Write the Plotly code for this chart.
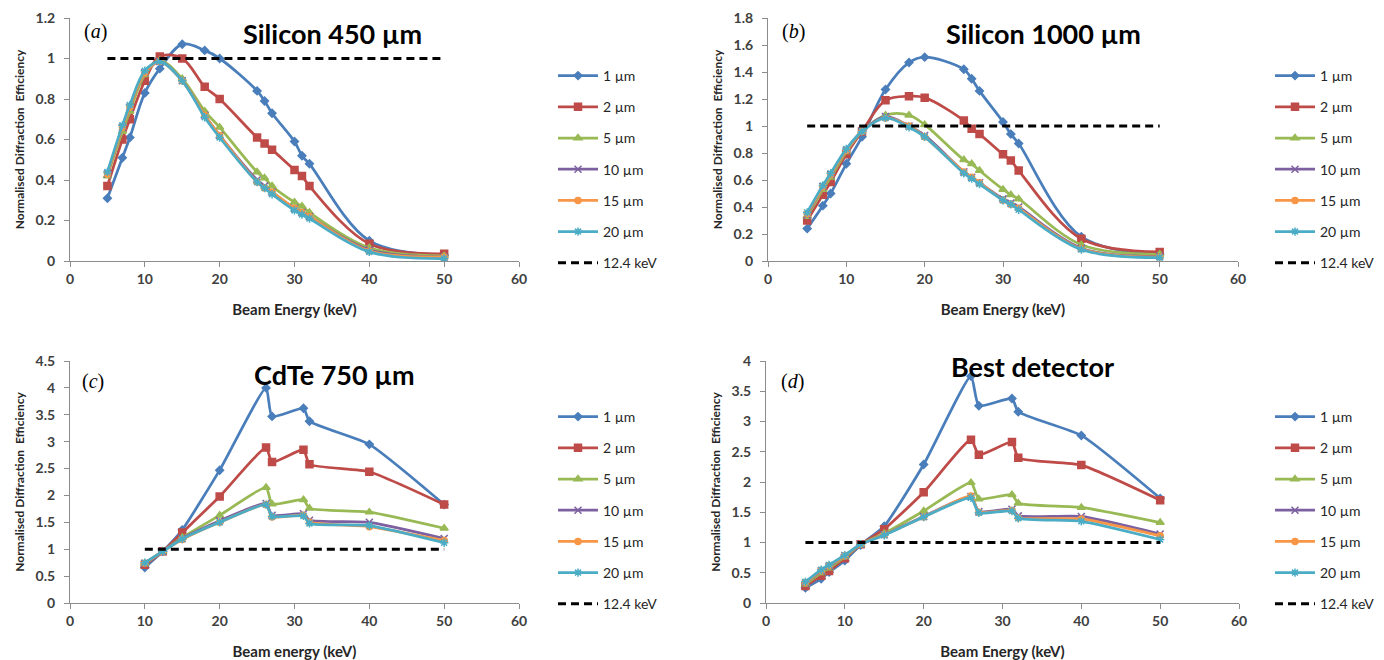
import plotly.graph_objects as go

# ---------------- data ----------------
series_names = ["1 µm", "2 µm", "5 µm", "10 µm", "15 µm", "20 µm"]
ref_name = "12.4 keV"

# (a) Silicon 450 µm
a_x = [5, 7, 8, 10, 12, 15, 18, 20, 25, 26, 27, 30, 31, 32, 40, 50]
a_1 = [0.31, 0.51, 0.61, 0.83, 0.95, 1.07, 1.04, 1.00, 0.84, 0.79, 0.73, 0.59, 0.52, 0.48, 0.10, 0.03]
a_2 = [0.37, 0.60, 0.70, 0.89, 1.01, 1.00, 0.86, 0.80, 0.61, 0.58, 0.55, 0.45, 0.42, 0.37, 0.085, 0.036]
a_5 = [0.42, 0.64, 0.74, 0.92, 0.99, 0.90, 0.74, 0.66, 0.44, 0.41, 0.37, 0.29, 0.27, 0.24, 0.065, 0.025]
a_10 = [0.43, 0.66, 0.76, 0.93, 0.985, 0.89, 0.72, 0.62, 0.40, 0.37, 0.34, 0.26, 0.24, 0.22, 0.055, 0.02]
a_15 = [0.43, 0.66, 0.76, 0.93, 0.985, 0.89, 0.72, 0.62, 0.39, 0.36, 0.34, 0.26, 0.24, 0.22, 0.05, 0.02]
a_20 = [0.44, 0.67, 0.77, 0.94, 0.985, 0.89, 0.71, 0.61, 0.39, 0.36, 0.33, 0.25, 0.23, 0.21, 0.045, 0.012]
a_ref_x = [5, 50]
a_ref_y = [1, 1]

# (b) Silicon 1000 µm
b_x = [5, 7, 8, 10, 12, 15, 18, 20, 25, 26, 27, 30, 31, 32, 40, 50]
b_1 = [0.24, 0.41, 0.50, 0.72, 0.92, 1.27, 1.47, 1.51, 1.42, 1.35, 1.26, 1.03, 0.94, 0.87, 0.18, 0.05]
b_2 = [0.30, 0.49, 0.585, 0.79, 0.96, 1.19, 1.22, 1.21, 1.04, 0.98, 0.94, 0.79, 0.745, 0.67, 0.165, 0.067]
b_5 = [0.33, 0.53, 0.62, 0.81, 0.96, 1.08, 1.08, 1.01, 0.75, 0.72, 0.67, 0.53, 0.49, 0.46, 0.12, 0.05]
b_10 = [0.34, 0.55, 0.64, 0.82, 0.96, 1.07, 1.00, 0.93, 0.66, 0.62, 0.58, 0.46, 0.43, 0.40, 0.095, 0.035]
b_15 = [0.35, 0.55, 0.64, 0.82, 0.96, 1.06, 1.00, 0.92, 0.66, 0.62, 0.58, 0.45, 0.42, 0.39, 0.09, 0.03]
b_20 = [0.36, 0.56, 0.65, 0.83, 0.96, 1.06, 0.99, 0.92, 0.65, 0.61, 0.57, 0.45, 0.42, 0.38, 0.085, 0.025]
b_ref_x = [5, 50]
b_ref_y = [1, 1]

# (c) CdTe 750 µm
c_x = [10, 12.4, 15, 20, 26.2, 27, 31.2, 32, 40, 50]
c_1 = [0.66, 0.96, 1.36, 2.47, 4.00, 3.47, 3.62, 3.38, 2.95, 1.83]
c_2 = [0.71, 0.96, 1.31, 1.98, 2.89, 2.62, 2.85, 2.58, 2.44, 1.83]
c_5 = [0.73, 0.96, 1.22, 1.63, 2.15, 1.84, 1.92, 1.76, 1.69, 1.39]
c_10 = [0.74, 0.96, 1.20, 1.53, 1.85, 1.63, 1.66, 1.54, 1.50, 1.20]
c_15 = [0.74, 0.96, 1.18, 1.50, 1.83, 1.60, 1.63, 1.50, 1.42, 1.16]
c_20 = [0.75, 0.96, 1.19, 1.50, 1.83, 1.61, 1.62, 1.48, 1.44, 1.12]
c_ref_x = [10, 50]
c_ref_y = [1, 1]

# (d) Best detector
d_x = [5, 7, 8, 10, 12, 15, 20, 26, 27, 31.2, 32, 40, 50]
d_1 = [0.25, 0.40, 0.51, 0.70, 0.96, 1.27, 2.29, 3.75, 3.26, 3.38, 3.16, 2.77, 1.73]
d_2 = [0.28, 0.45, 0.53, 0.74, 0.97, 1.22, 1.83, 2.70, 2.45, 2.66, 2.40, 2.28, 1.70]
d_5 = [0.31, 0.50, 0.58, 0.76, 0.97, 1.15, 1.52, 1.99, 1.72, 1.79, 1.65, 1.58, 1.33]
d_10 = [0.33, 0.53, 0.61, 0.78, 0.97, 1.13, 1.43, 1.76, 1.51, 1.55, 1.44, 1.43, 1.14]
d_15 = [0.34, 0.54, 0.62, 0.78, 0.97, 1.13, 1.42, 1.77, 1.50, 1.53, 1.41, 1.39, 1.11]
d_20 = [0.35, 0.55, 0.63, 0.79, 0.97, 1.12, 1.42, 1.74, 1.49, 1.52, 1.40, 1.35, 1.05]
d_ref_x = [5, 50]
d_ref_y = [1, 1]

x_ticks = [0, 10, 20, 30, 40, 50, 60]

# ---------------- styling ----------------
W, H = 1384, 660
colors = ["#4A7EBB", "#BE4B48", "#98B954", "#7D60A0", "#F79646", "#4BACC6"]
symbols = ["diamond", "square", "triangle-up", "x-thin-open", "circle", "asterisk-open"]
msizes = [6, 7, 7, 7, 6, 7]
FONT = "Lato"
TICKCOL = "#404040"
AXCOL = "#8C8C8C"

def px_x(p):
    return p / W

def px_y(p):
    return 1 - p / H

panels = [
    dict(x=a_x, ys=[a_1, a_2, a_5, a_10, a_15, a_20], rx=a_ref_x, ry=a_ref_y,
         xd=(70, 519), yd=(18, 261), yr=(0, 1.2), dt=0.2, smooth=1.0,
         title="Silicon 450 µm", tx=332, ty=33, lab="(<i>a</i>)", lx=95, ly=31,
         xtitle="Beam Energy (keV)", leg=(553, 60)),
    dict(x=b_x, ys=[b_1, b_2, b_5, b_10, b_15, b_20], rx=b_ref_x, ry=b_ref_y,
         xd=(768, 1238), yd=(18, 261), yr=(0, 1.8), dt=0.2, smooth=1.0,
         title="Silicon 1000 µm", tx=1043, ty=33, lab="(<i>b</i>)", lx=793, ly=31,
         xtitle="Beam Energy (keV)", leg=(1270, 60)),
    dict(x=c_x, ys=[c_1, c_2, c_5, c_10, c_15, c_20], rx=c_ref_x, ry=c_ref_y,
         xd=(70, 519), yd=(361, 603), yr=(0, 4.5), dt=0.5, smooth=0.5,
         title="CdTe 750 µm", tx=334, ty=374, lab="(<i>c</i>)", lx=93, ly=382,
         xtitle="Beam energy (keV)", leg=(553, 401)),
    dict(x=d_x, ys=[d_1, d_2, d_5, d_10, d_15, d_20], rx=d_ref_x, ry=d_ref_y,
         xd=(766, 1239), yd=(361, 603), yr=(0, 4.0), dt=0.5, smooth=0.5,
         title="Best detector", tx=1032, ty=366, lab="(<i>d</i>)", lx=792, ly=382,
         xtitle="Beam Energy (keV)", leg=(1270, 401)),
]

fig = go.Figure()
layout = dict(
    width=W, height=H, margin=dict(l=0, r=0, t=0, b=0, autoexpand=False),
    paper_bgcolor="white", plot_bgcolor="white",
    font=dict(family=FONT, color=TICKCOL),
    showlegend=True,
)
annotations = []

for i, p in enumerate(panels):
    n = "" if i == 0 else str(i + 1)
    xa, ya = "x" + n, "y" + n
    leg = "legend" + n
    for k in range(6):
        fig.add_trace(go.Scatter(
            x=p["x"], y=p["ys"][k], name=series_names[k], mode="lines+markers",
            line=dict(color=colors[k], width=2.75, shape="spline", smoothing=p["smooth"]),
            marker=dict(symbol=symbols[k], size=msizes[k], color=colors[k],
                        line=dict(color=colors[k], width=1.5)),
            xaxis=xa, yaxis=ya, legend=leg, legendgroup=f"{i}_{k}",
        ))
    fig.add_trace(go.Scatter(
        x=p["rx"], y=p["ry"], name=ref_name, mode="lines",
        line=dict(color="black", width=3, dash="8px,5px"),
        xaxis=xa, yaxis=ya, legend=leg, legendgroup=f"{i}_ref",
    ))
    nt = int(round(p["yr"][1] / p["dt"]))
    yt = [round(j * p["dt"], 2) for j in range(nt + 1)]
    ytxt = [("%g" % v) for v in yt]
    layout["xaxis" + n] = dict(
        domain=[px_x(p["xd"][0]), px_x(p["xd"][1])], range=[0, 60], anchor=ya,
        tickvals=x_ticks, ticktext=[str(v) for v in x_ticks], automargin=False,
        showline=True, linecolor=AXCOL, linewidth=1, ticks="outside", ticklen=5,
        tickcolor=AXCOL, showgrid=False, zeroline=False,
        tickfont=dict(family=FONT, size=14, color=TICKCOL, weight="bold"),
        title=dict(text=p["xtitle"], font=dict(family=FONT, size=15, color="#262626", weight="bold"),
                   standoff=18),
    )
    layout["yaxis" + n] = dict(
        domain=[px_y(p["yd"][1]), px_y(p["yd"][0])], range=list(p["yr"]), anchor=xa,
        tickvals=yt, ticktext=ytxt, automargin=False,
        showline=True, linecolor=AXCOL, linewidth=1, ticks="outside", ticklen=5,
        tickcolor=AXCOL, showgrid=False, zeroline=False, ticklabelstandoff=6,
        tickfont=dict(family=FONT, size=14, color=TICKCOL, weight="bold"),
        title=dict(text="Normalised Diffraction  Efficiency",
                   font=dict(family=FONT, size=12, color="#262626", weight="bold"), standoff=8),
    )
    layout[leg] = dict(
        x=px_x(p["leg"][0]), y=px_y(p["leg"][1]), xanchor="left", yanchor="top",
        bgcolor="rgba(0,0,0,0)", tracegroupgap=10, itemwidth=40,
        font=dict(family=FONT, size=14, color="#262626"),
    )
    annotations.append(dict(
        x=px_x(p["tx"]), y=px_y(p["ty"]), xref="paper", yref="paper", showarrow=False,
        text="<b>" + p["title"] + "</b>", font=dict(family=FONT, size=27, color="black"),
        xanchor="center", yanchor="middle"))
    annotations.append(dict(
        x=px_x(p["lx"]), y=px_y(p["ly"]), xref="paper", yref="paper", showarrow=False,
        text=p["lab"], font=dict(family="Liberation Serif", size=20, color="black"),
        xanchor="center", yanchor="middle"))

layout["annotations"] = annotations
fig.update_layout(**layout)
fig.write_html("out.html")
